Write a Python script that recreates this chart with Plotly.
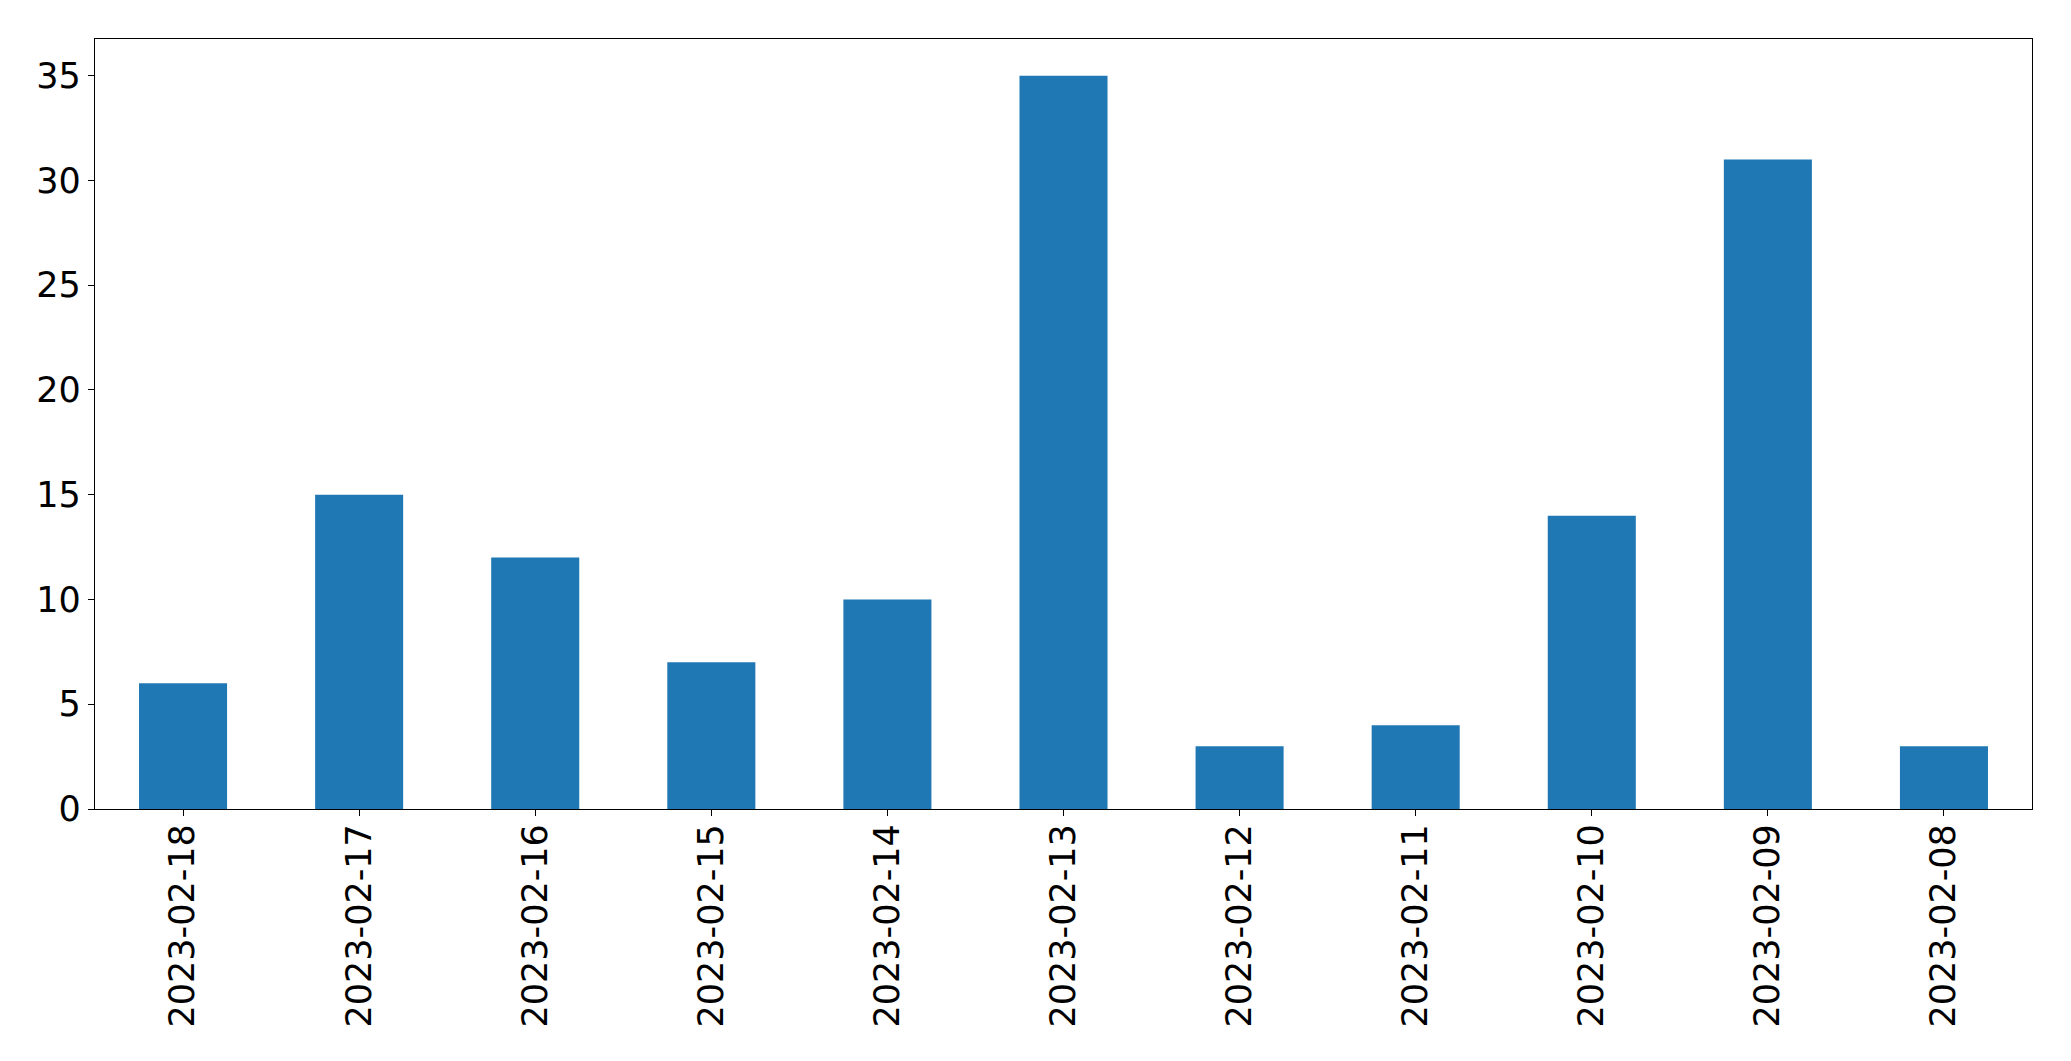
import plotly.graph_objects as go

dates = ["2023-02-18", "2023-02-17", "2023-02-16", "2023-02-15", "2023-02-14",
         "2023-02-13", "2023-02-12", "2023-02-11", "2023-02-10", "2023-02-09", "2023-02-08"]
counts = [6, 15, 12, 7, 10, 35, 3, 4, 14, 31, 3]
y_ticks = [0, 5, 10, 15, 20, 25, 30, 35]

# target plot-area box in the page (px); page body has an 8px default margin
W, H = 2071, 1061
L, R, T, B = 94.7, 2031.7, 39.3, 809
OFF = 8
FW, FH = W - OFF, H - OFF

fig = go.Figure(go.Bar(x=dates, y=counts, width=0.5, marker=dict(color="#1f77b4", line=dict(width=0))))

font = dict(family="DejaVu Sans", size=35, color="black")
fig.update_layout(
    template="none",
    width=FW, height=FH,
    margin=dict(l=L - OFF, r=FW + OFF - R, t=T - OFF, b=FH + OFF - B, pad=0),
    plot_bgcolor="white", paper_bgcolor="white",
    showlegend=False,
    font=font,
)
fig.update_xaxes(
    type="category", categoryorder="array", categoryarray=dates,
    range=[-0.5, len(dates) - 0.5], automargin=False,
    showline=True, linecolor="black", linewidth=1.3, mirror=True,
    ticks="outside", ticklen=6, tickwidth=1.3, tickcolor="black",
    tickangle=-90, showgrid=False, zeroline=False, tickfont=font,
    ticklabelstandoff=-6,
)
fig.update_yaxes(
    range=[0, max(counts) * 1.05], automargin=False,
    tickvals=y_ticks, ticktext=[str(v) for v in y_ticks],
    showline=True, linecolor="black", linewidth=1.3, mirror=True,
    ticks="outside", ticklen=6, tickwidth=1.3, tickcolor="black",
    showgrid=False, zeroline=False, tickfont=font,
)
fig.write_html("out.html")
